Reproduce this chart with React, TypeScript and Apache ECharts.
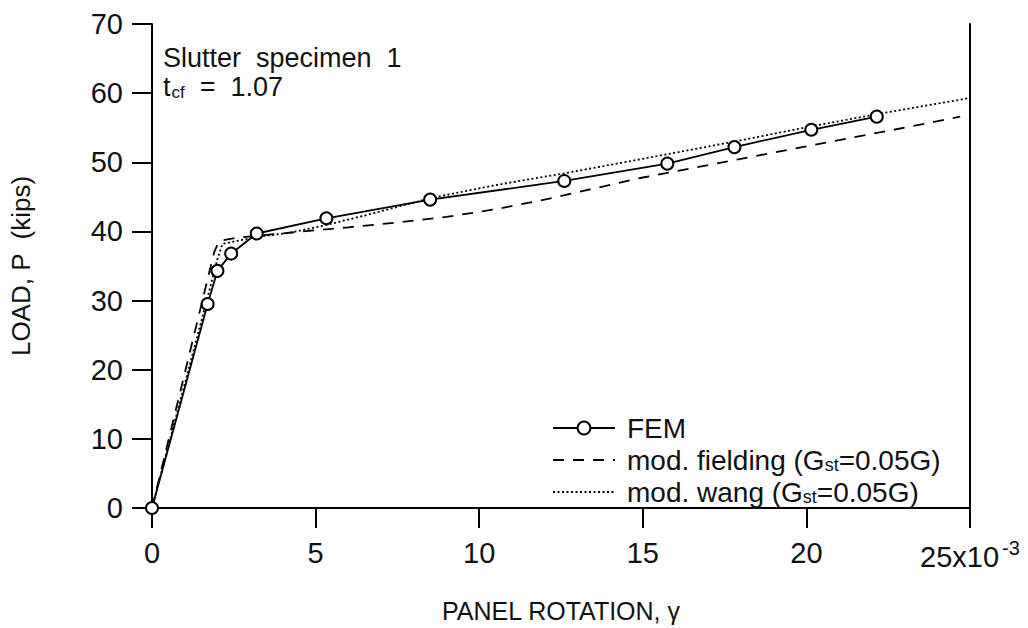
import React, { useEffect, useRef } from "react";
import * as echarts from "echarts";

const xTicks = [0, 5, 10, 15, 20, 25];
const femX = [0, 1.7, 2.0, 2.42, 3.2, 5.33, 8.5, 12.6, 15.75, 17.8, 20.15, 22.15];
const femY = [0, 29.5, 34.3, 36.8, 39.7, 41.9, 44.6, 47.3, 49.8, 52.2, 54.7, 56.6];
const fieldingX = [0, 1.9, 2.05, 2.6, 3.5, 4.6, 6.0, 7.5, 9.0, 10.5, 12.0, 13.5, 15.0, 17.0, 19.0, 21.0, 23.0, 24.7];
const fieldingY = [0, 37.0, 38.6, 39.1, 39.5, 40.0, 40.6, 41.3, 42.1, 43.2, 44.6, 46.2, 47.8, 49.6, 51.4, 53.2, 55.0, 56.6];
const wangX = [0, 1.7, 2.0, 2.15, 3.2, 4.2, 5.3, 6.5, 8.5, 10.5, 12.6, 15.0, 17.8, 20.15, 22.2, 25];
const wangY = [0, 30.5, 36.0, 38.2, 39.2, 39.8, 40.9, 42.3, 44.8, 46.7, 48.4, 50.5, 53.0, 55.2, 57.0, 59.3];

const seriesNames = ["FEM", "mod. fielding (Gst=0.05G)", "mod. wang (Gst=0.05G)"];
const legendLabels: Record<string, string> = {
  "FEM": "FEM",
  "mod. fielding (Gst=0.05G)": "mod. fielding (G{sub|st}=0.05G)",
  "mod. wang (Gst=0.05G)": "mod. wang (G{sub|st}=0.05G)",
};

const zip = (xs: number[], ys: number[]) => xs.map((x, i) => [x, ys[i]]);

const FONT = "'Liberation Sans', Arial, Helvetica, sans-serif";

export default function App() {
  const ref = useRef<HTMLDivElement>(null);
  useEffect(() => {
    if (!ref.current) return;
    const chart = echarts.init(ref.current, undefined, { renderer: "svg" });
    chart.setOption({
      animation: false,
      backgroundColor: "#fff",
      textStyle: { fontFamily: FONT, color: "#111" },
      grid: { left: 144, right: 58, top: 24, bottom: 110 },
      xAxis: {
        type: "value",
        min: xTicks[0],
        max: xTicks[xTicks.length - 1],
        interval: 5,
        name: "PANEL ROTATION, γ",
        nameLocation: "middle",
        nameGap: 90,
        nameTextStyle: { fontSize: 25, color: "#111", fontFamily: FONT },
        axisLine: { show: true, onZero: false, lineStyle: { color: "#000", width: 2 } },
        axisTick: { show: true, inside: false, length: 20, lineStyle: { color: "#000", width: 2 } },
        splitLine: { show: false },
        axisLabel: {
          fontSize: 29,
          color: "#111",
          margin: 30,
          fontFamily: FONT,
          formatter: (v: number) => (v === 25 ? "25x10{sup|-3}" : String(v)),
          rich: {
            sup: { fontSize: 20, padding: [0, 0, 18, 3], color: "#111", fontFamily: FONT },
          },
        },
      },
      yAxis: [
        {
          type: "value",
          min: 0,
          max: 70,
          interval: 10,
          name: "LOAD, P  (kips)",
          nameLocation: "middle",
          nameGap: 118,
          nameRotate: 90,
          nameTextStyle: { fontSize: 26, color: "#111", fontFamily: FONT },
          axisLine: { show: true, onZero: false, lineStyle: { color: "#000", width: 2 } },
          axisTick: { show: true, inside: false, length: 20, lineStyle: { color: "#000", width: 2 } },
          splitLine: { show: false },
          axisLabel: { fontSize: 29, color: "#111", margin: 29, fontFamily: FONT },
        },
        {
          type: "value",
          min: 0,
          max: 70,
          interval: 10,
          position: "right",
          axisLine: { show: true, onZero: false, lineStyle: { color: "#000", width: 2 } },
          axisTick: { show: false },
          axisLabel: { show: false },
          splitLine: { show: false },
        },
      ],
      legend: {
        orient: "vertical",
        left: 547,
        top: 409,
        itemWidth: 62,
        itemHeight: 16,
        itemGap: 4,
        data: [
          { name: seriesNames[0] },
          { name: seriesNames[1], itemStyle: { opacity: 0 } },
          { name: seriesNames[2], itemStyle: { opacity: 0 } },
        ],
        formatter: (name: string) => legendLabels[name],
        textStyle: {
          fontSize: 28,
          color: "#111",
          fontFamily: FONT,
          padding: [0, 0, 0, 7],
          rich: {
            sub: { fontSize: 18, padding: [10, 0, 0, 0], color: "#111", fontFamily: FONT },
          },
        },
      },
      graphic: [
        {
          type: "text",
          left: 163,
          top: 44,
          style: { text: "Slutter  specimen  1", fontSize: 27, fill: "#111", fontFamily: FONT },
        },
        {
          type: "text",
          left: 163,
          top: 73,
          style: {
            text: "t{sub|cf}  =  1.07",
            fontSize: 27,
            fill: "#111",
            fontFamily: FONT,
            rich: {
              sub: { fontSize: 17, padding: [11, 0, 0, 1], fill: "#111", fontFamily: FONT },
            },
          },
        },
      ],
      series: [
        {
          name: seriesNames[0],
          type: "line",
          data: zip(femX, femY),
          symbol: "emptyCircle",
          symbolSize: 12,
          itemStyle: { color: "#000", borderColor: "#000", borderWidth: 1.6 },
          lineStyle: { color: "#000", width: 1.8, type: "solid" },
          z: 3,
        },
        {
          name: seriesNames[1],
          type: "line",
          data: zip(fieldingX, fieldingY),
          showSymbol: false,
          symbol: "none",
          itemStyle: { color: "#000" },
          lineStyle: { color: "#000", width: 1.8, type: [11, 9] },
        },
        {
          name: seriesNames[2],
          type: "line",
          data: zip(wangX, wangY),
          showSymbol: false,
          symbol: "none",
          itemStyle: { color: "#000" },
          lineStyle: { color: "#000", width: 1.8, type: [2, 2.5] },
        },
      ],
    });
    return () => chart.dispose();
  }, []);
  return (
    <div
      ref={ref}
      style={{ position: "fixed", left: 0, top: 0, width: 1028, height: 628, background: "#fff" }}
    />
  );
}
